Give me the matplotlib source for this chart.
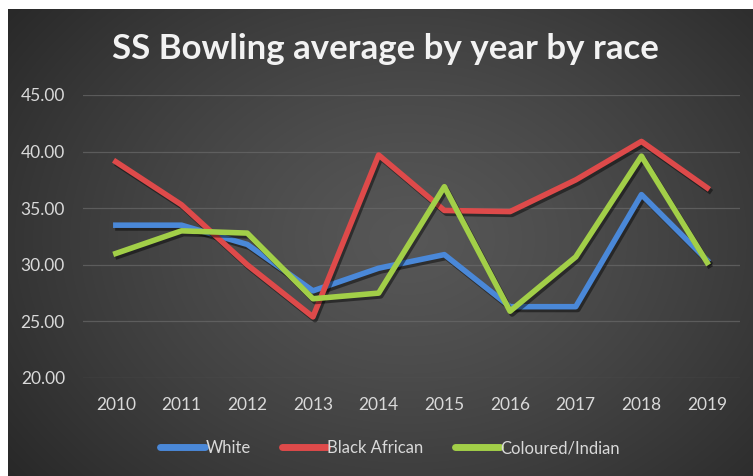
import numpy as np
import matplotlib
matplotlib.use('Agg')
from matplotlib import pyplot as plt
import matplotlib.patheffects as pe

years = ['2010', '2011', '2012', '2013', '2014', '2015', '2016', '2017', '2018', '2019']
white = [33.5, 33.5, 31.8, 27.7, 29.7, 30.9, 26.3, 26.3, 36.2, 30.4]
black_african = [39.1, 35.3, 30.0, 25.4, 39.7, 34.8, 34.7, 37.5, 40.9, 36.8]
coloured_indian = [31.0, 33.0, 32.8, 27.0, 27.5, 36.9, 25.9, 30.7, 39.6, 30.2]
yticks = [20, 25, 30, 35, 40, 45]

plt.rcParams['font.family'] = ['Lato', 'DejaVu Sans']

fig = plt.figure(figsize=(7.53, 4.76), dpi=100, facecolor='white')

# dark radial gradient background
bg = fig.add_axes([8/753, 0, 745/753, 467/476])
yy, xx = np.mgrid[0:467, 0:745]
r = np.sqrt(((xx - 400) / 520.0) ** 2 + ((yy - 230) / 400.0) ** 2)
shade = 0.34 - 0.19 * np.clip(r, 0, 1) ** 1.3
bg.imshow(np.dstack([shade, shade, shade]), aspect='auto', interpolation='bilinear')
bg.axis('off')

ax = fig.add_axes([83/753, 1 - 378/476, 657/753, 283/476])
ax.patch.set_alpha(0)

x = np.arange(len(years))
shadow = [pe.SimpleLineShadow(offset=(1.5, -2), shadow_color='black', alpha=0.45), pe.Normal()]
ax.plot(x, white, color='#4a88d8', lw=4, label='White', path_effects=shadow, solid_joinstyle='round')
ax.plot(x, black_african, color='#de4a4a', lw=4, label='Black African', path_effects=shadow, solid_joinstyle='round')
ax.plot(x, coloured_indian, color='#a2cf48', lw=4, label='Coloured/Indian', path_effects=shadow, solid_joinstyle='round')

ax.set_xlim(-0.5, len(years) - 0.5)
ax.set_ylim(20, 45)
ax.set_yticks(yticks)
ax.set_yticklabels(['%.2f' % v for v in yticks])
ax.set_xticks(x)
ax.set_xticklabels(years)
ax.tick_params(colors='#d9d9d9', labelsize=12.5, length=0)
ax.tick_params(axis='y', pad=13)
ax.tick_params(axis='x', pad=14)
ax.grid(axis='y', color='#6a6a6a', lw=0.9, alpha=0.7)
ax.set_axisbelow(True)
for s in ax.spines.values():
    s.set_visible(False)

fig.text(0.512, 1 - 49/476, 'SS Bowling average by year by race', color='#f2f2f2',
         fontsize=25, fontweight='bold', ha='center', va='center')

leg = fig.legend(loc='center', bbox_to_anchor=(0.518, 1 - 448/476), ncol=3, frameon=False,
                 fontsize=12, handlelength=2.7, handletextpad=0.0, columnspacing=1.9)
for t in leg.get_texts():
    t.set_color('#d9d9d9')
for h in leg.legend_handles:
    h.set_path_effects([])
    h.set_linewidth(5)
    h.set_solid_capstyle('round')

plt.savefig('out.png', dpi=100, facecolor='white')
